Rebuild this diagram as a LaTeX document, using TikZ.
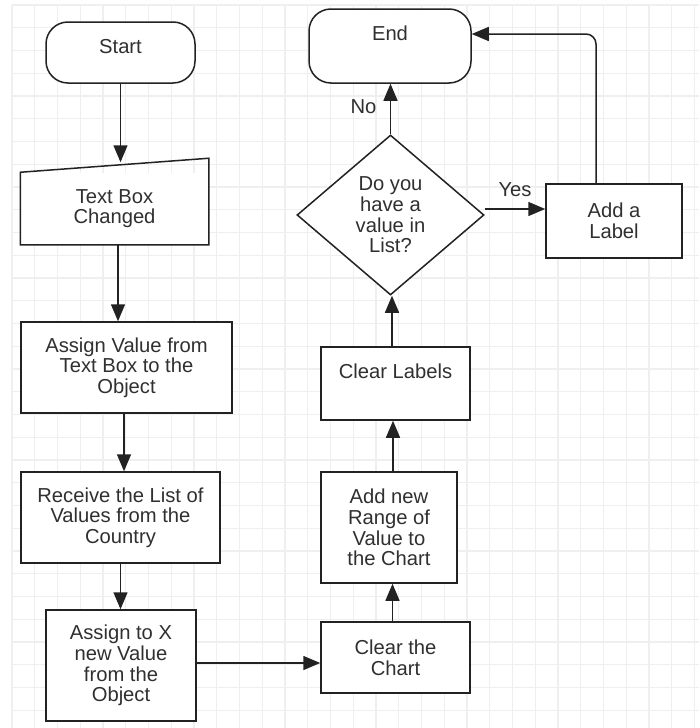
\documentclass[tikz,border=0pt]{standalone}
\usepackage{fontspec}
\setmainfont{Liberation Sans}
\usepackage{tikz}
\usetikzlibrary{arrows.meta,shapes.geometric}
\usepackage{xcolor}
\definecolor{ink}{HTML}{222222}
\definecolor{txt}{HTML}{303030}
\definecolor{gridgray}{HTML}{EFEFEF}
\tikzset{
  box/.style={draw=ink, line width=1.5pt, fill=white, align=center, inner sep=0pt, text=txt},
  termbox/.style={box, rounded corners=22pt},
  decision/.style={box, diamond},
  gridline/.style={draw=gridgray, line width=1.1pt},
  arrow/.style={-{Triangle[length=17pt,width=14pt]}, line width=1.5pt, draw=ink}
}

\begin{document}
\begin{tikzpicture}[x=1pt, y=-1pt, font=\fontsize{20.2}{20.6}\selectfont]
  \useasboundingbox[fill=white] (0,0) rectangle (699,728);
  \foreach \i in {0,...,30} \draw[gridline] ({12+22.75*\i},5) -- ({12+22.75*\i},728);
  \foreach \j in {0,...,31} \draw[gridline] (12,{5+22.75*\j}) -- (699,{5+22.75*\j});

  \node[termbox, minimum width=149pt, minimum height=61pt, text height=14.5pt, text depth=13.5pt] (start) at (120.5,52.5) {Start};
  \node[box, draw=none, minimum width=187pt, minimum height=71pt] (tbc) at (114.5,208.5) {Text Box\\Changed};
  \draw[draw=ink, line width=1.5pt] (tbc.south west) -- (tbc.south east) -- ([yshift=14pt]tbc.north east) -- (tbc.north west) -- cycle;
  \node[box, minimum width=211pt, minimum height=91pt] (assign) at (126.5,367.5) {Assign Value from\\Text Box to the\\Object};
  \node[box, minimum width=199pt, minimum height=91pt] (receive) at (120.5,517.5) {Receive the List of\\Values from the\\Country};
  \node[box, minimum width=150pt, minimum height=111pt] (assignx) at (121,665.5) {Assign to X\\new Value\\from the\\Object};
  \node[box, minimum width=149pt, minimum height=71pt] (clearchart) at (395.5,657.5) {Clear the\\Chart};
  \node[box, minimum width=136pt, minimum height=111pt] (addnew) at (389,527.5) {Add new\\Range of\\Value to\\the Chart};
  \node[box, minimum width=149pt, minimum height=73pt, text height=14.5pt, text depth=25.5pt] (clearlabels) at (395.5,383.5) {Clear Labels};
  \node[decision, minimum width=187pt, minimum height=160pt] (decide) at (390.5,215) {Do you\\have a\\value in\\List?};
  \node[box, minimum width=136pt, minimum height=74pt] (addlabel) at (614,221) {Add a\\Label};
  \node[termbox, minimum width=162pt, minimum height=74pt, text height=14.5pt, text depth=26.5pt] (end) at (390,46) {End};

  \draw[arrow] (start) -- ([yshift=10pt]start.south |- tbc.north);
  \draw[arrow] ([xshift=3.5pt]tbc.south) -- ([xshift=3.5pt]tbc.south |- assign.north);
  \draw[arrow] ([xshift=-2.5pt]assign.south) -- ([xshift=-2.5pt]assign.south |- receive.north);
  \draw[arrow] (receive) -- (receive |- assignx.north);
  \draw[arrow] ([yshift=2.5pt]assignx.east) -- ([yshift=2.5pt]assignx.east -| clearchart.west);
  \draw[arrow] ([xshift=-3pt]clearchart.north) -- ([xshift=-3pt]clearchart.north |- addnew.south);
  \draw[arrow] ([xshift=4pt]addnew.north) -- ([xshift=4pt]addnew.north |- clearlabels.south);
  \draw[arrow] ([xshift=-3.5pt]clearlabels.north) -- ([xshift=-3.5pt]clearlabels.north |- decide.south);
  \draw[arrow] (decide.north) -- (decide.north |- end.south) node[pos=0.55, left=10pt, text=txt] {No};
  \draw[arrow] ([yshift=6pt]decide.east) -- ([yshift=6pt]decide.east -| addlabel.west) node[midway, above=8pt, text=txt] {Yes};
  \draw[arrow, rounded corners=10pt] ([xshift=-18pt]addlabel.north) |- ([yshift=12pt]end.east);
\end{tikzpicture}
\end{document}
